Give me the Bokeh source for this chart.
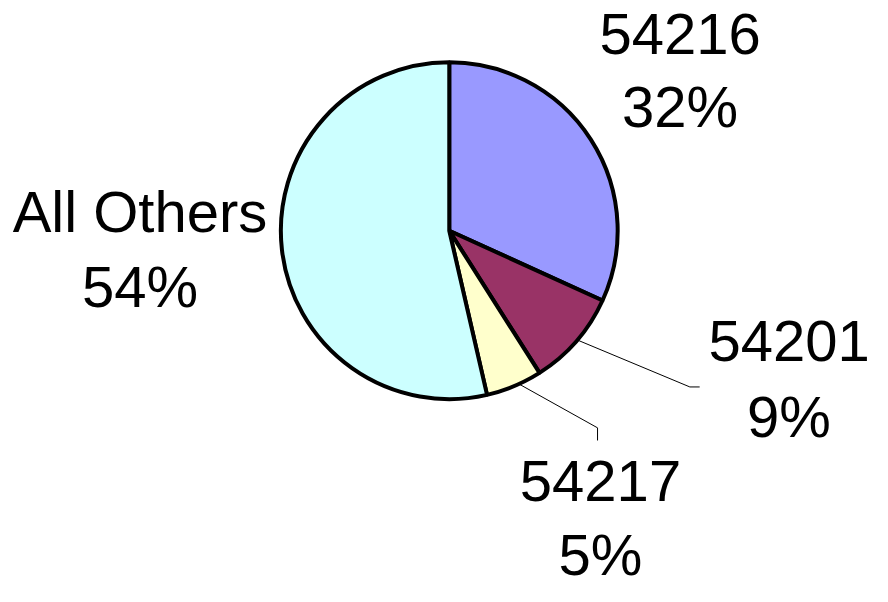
import math
from bokeh.plotting import figure
from bokeh.models import Range1d, ColumnDataSource
from bokeh.core.properties import value
from bokeh.embed import file_html
from bokeh.resources import INLINE

# ---- data ----
categories = ["54216", "54201", "54217", "All Others"]
shares = [31.8, 9.2, 5.4, 53.6]
colors = ["#9999FF", "#993366", "#FFFFCC", "#CCFFFF"]

# ---- layout (reference pixel coords, y downward; converted below) ----
W, H = 872, 586
def Y(yi):
    return 602 - yi

cx, cy, R = 457, 236.5, 171.5

p = figure(width=W, height=H, output_backend="svg", toolbar_location=None,
           x_range=Range1d(0, 888), y_range=Range1d(0, 602),
           min_border=0, outline_line_color=None)
p.axis.visible = False
p.grid.visible = False
p.background_fill_color = "white"
p.border_fill_color = "white"

total = sum(shares)
starts, ends = [], []
a = math.pi / 2
for s in shares:
    span = 2 * math.pi * s / total
    starts.append(a - span)
    ends.append(a)
    a -= span

src = ColumnDataSource(dict(cat=categories, start=starts, end=ends, color=colors,
                            x=[cx] * 4, y=[Y(cy)] * 4))
p.wedge(x="x", y="y", radius=R, start_angle="start", end_angle="end",
        fill_color="color", line_color="black", line_width=4, source=src)

# leader lines
p.line([588, 702, 712], [Y(349), Y(397), Y(397)], line_color="black", line_width=1)
p.line([528, 608, 608], [Y(394), Y(439), Y(452)], line_color="black", line_width=1)

# labels: (center x, anchor y of name line, anchor y of percent line)
label_pos = {
    "54216": (692, 34, 109),
    "54201": (803, 350, 427),
    "54217": (611, 494, 569),
    "All Others": (142, 217, 294),
}
tx, ty, tt = [], [], []
for c, s in zip(categories, shares):
    x0, y1, y2 = label_pos[c]
    tx += [x0, x0]
    ty += [Y(y1), Y(y2)]
    tt += [c, f"{round(s)}%"]

p.text(x=tx, y=ty, text=tt, text_font=value("Liberation Sans"),
       text_font_size="58px", text_align="center", text_baseline="alphabetic",
       text_color="black")

open("out.html", "w").write(file_html(p, INLINE))
